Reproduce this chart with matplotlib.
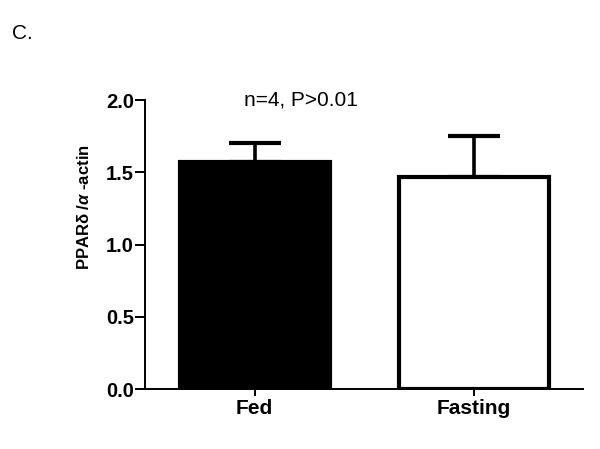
"""
PPAR-delta / alpha-actin expression, Fed vs Fasting (panel C)
"""
import matplotlib
matplotlib.use("Agg")
import matplotlib.pyplot as plt

plt.rcParams["font.family"] = ["Liberation Sans", "DejaVu Sans"]
plt.rcParams["mathtext.fontset"] = "custom"
plt.rcParams["mathtext.it"] = "Liberation Sans:italic:bold"
plt.rcParams["mathtext.rm"] = "Liberation Sans:bold"

groups = ["Fed", "Fasting"]
means = [1.57, 1.47]
errors = [0.13, 0.28]
fill_colors = ["black", "white"]
y_ticks = [0.0, 0.5, 1.0, 1.5, 2.0]
note = "n=4, P>0.01"


def main():
    fig = plt.figure(figsize=(6.0, 4.49), dpi=100)
    ax = fig.add_axes([0.2417, 0.1336, 0.73, 0.6434])

    x = range(len(groups))
    ax.bar(x, means, width=0.685, color=fill_colors, edgecolor="black",
           linewidth=3.0, zorder=2)
    # error bars only upward, like GraphPad
    ax.errorbar(x, means, yerr=[[0, 0], errors], fmt="none", ecolor="black",
                elinewidth=2.6, capsize=19, capthick=3.0, zorder=1)

    ax.set_xlim(-0.5, 1.5)
    ax.set_ylim(0, 2.0)
    ax.set_yticks(y_ticks)
    ax.set_yticklabels([f"{t:.1f}" for t in y_ticks], fontsize=14.5, fontweight="bold")
    ax.set_xticks(list(x))
    ax.set_xticklabels(groups, fontsize=15, fontweight="bold")
    ax.set_ylabel(r"PPARδ /$\alpha$ -actin", fontsize=12, fontweight="bold")
    ax.yaxis.set_label_coords(-0.121, 0.63)

    for side in ["top", "right"]:
        ax.spines[side].set_visible(False)
    for side in ["left", "bottom"]:
        ax.spines[side].set_linewidth(1.4)
    ax.tick_params(axis="y", direction="out", length=7, width=1.4, pad=1)
    ax.tick_params(axis="x", direction="out", length=5, width=1.4, pad=2)

    ax.text(0.21, 2.0, note, ha="center", va="center", fontsize=15)
    fig.text(0.02, 0.925, "C.", fontsize=15, ha="left", va="center")

    fig.savefig("out.png", dpi=100)


if __name__ == "__main__":
    main()
